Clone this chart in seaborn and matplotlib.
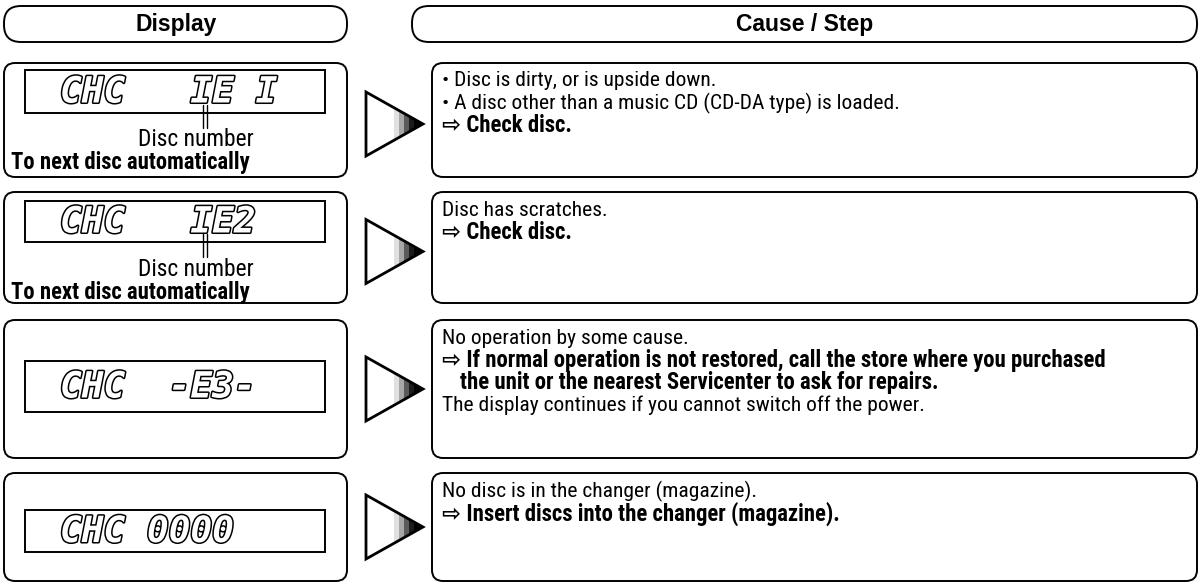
import matplotlib
matplotlib.use("Agg")
import matplotlib.pyplot as plt
import matplotlib.patheffects as pe
from matplotlib import font_manager
from matplotlib.patches import FancyBboxPatch, Polygon
import seaborn as sns

# --- text content ---
headers = ["Display", "Cause / Step"]
display_codes = ["CHC   IE I", "CHC   IE2", "CHC  -E3-", "CHC 0000"]
disc_note = "Disc number"
auto_note = "To next disc automatically"

# cause lines per row: (text, bold, indent)
cause_rows = [
    [("\u2022 Disc is dirty, or is upside down.", False, 0),
     ("\u2022 A disc other than a music CD (CD-DA type) is loaded.", False, 0),
     ("\u21e8 Check disc.", True, 0)],
    [("Disc has scratches.", False, 0),
     ("\u21e8 Check disc.", True, 0)],
    [("No operation by some cause.", False, 0),
     ("\u21e8 If normal operation is not restored, call the store where you purchased", True, 0),
     ("the unit or the nearest Servicenter to ask for repairs.", True, 1),
     ("The display continues if you cannot switch off the power.", False, 0)],
    [("No disc is in the changer (magazine).", False, 0),
     ("\u21e8 Insert discs into the changer (magazine).", True, 0)],
]

# row geometry (pixels)
row_top = [63, 192, 320, 473]
row_bot = [177, 303, 458, 581]
disp_top = [70, 201, 361, 510]
disp_bot = [113, 242, 412, 552]
has_note = [True, True, False, False]

sns.set_theme(style="white")
plt.rcParams["text.color"] = "black"

fig = plt.figure(figsize=(12.02, 5.83), dpi=100)
ax = fig.add_axes([0, 0, 1, 1])
ax.set_xlim(0, 1202)
ax.set_ylim(583, 0)
ax.axis("off")
renderer = fig.canvas.get_renderer()

# a narrow face is closest to the condensed type of the original
names = {f.name for f in font_manager.fontManager.ttflist}
narrow = next((n for n in ["Liberation Sans Narrow", "Roboto Condensed", "Open Sans Condensed",
                           "Noto Sans Condensed", "Roboto", "Liberation Sans"] if n in names),
              "DejaVu Sans")
FONT = [narrow, "DejaVu Sans"]
plt.rcParams["font.family"] = FONT


def width_of(s, size, weight="normal"):
    t = ax.text(0, 0, s, fontsize=size, fontweight=weight)
    w = t.get_window_extent(renderer).width
    t.remove()
    return w


SZ_REG = 14.5 * 247 / width_of("No operation by some cause.", 14.5)
SZ_BOLD = min(SZ_REG * 1.06, 14.5 * 645 / width_of(
    "If normal operation is not restored, call the store where you purchased", 14.5, "bold"))
SZ_NOTE = 14.5 * 116 / width_of(disc_note, 14.5)
SZ_AUTO = 14.5 * 240 / width_of(auto_note, 14.5, "bold")

LW = 1.4


def rbox(x0, y0, x1, y1, r):
    p = FancyBboxPatch((x0, y0), x1 - x0, y1 - y0,
                       boxstyle=f"round,pad=0,rounding_size={r}",
                       fc="white", ec="black", lw=LW)
    ax.add_patch(p)


# headers
rbox(4, 6, 347, 42, 17)
rbox(412, 6, 1197, 42, 17)
for x, h in zip([176, 805], headers):
    ax.text(x, 24, h, ha="center", va="center", fontsize=16.5,
            fontweight="bold", family=["Liberation Sans", "DejaVu Sans"])

lcd = [pe.withStroke(linewidth=2.2, foreground="black")]

for i in range(4):
    t, b = row_top[i], row_bot[i]
    rbox(4, t, 347, b, 11)
    rbox(432, t, 1197, b, 11)

    # LCD window
    ax.add_patch(plt.Rectangle((25, disp_top[i]), 300, disp_bot[i] - disp_top[i],
                               fc="white", ec="black", lw=LW))
    ax.text(60, (disp_top[i] + disp_bot[i]) / 2 + 1, display_codes[i],
            ha="left", va="center", fontsize=26, fontstyle="italic",
            fontweight="bold", color="white", path_effects=lcd,
            family=["DejaVu Sans Mono", "DejaVu Sans"])

    if has_note[i]:
        ax.plot([203, 203], [disp_bot[i] - 8, disp_bot[i] + 15], color="black", lw=1)
        ax.plot([207, 207], [disp_bot[i] - 8, disp_bot[i] + 15], color="black", lw=1)
        ax.text(196, disp_bot[i] + 27, disc_note, ha="center", va="center",
                fontsize=SZ_NOTE)
        ax.text(11, disp_bot[i] + 50, auto_note, ha="left", va="center",
                fontsize=SZ_AUTO, fontweight="bold")

    # arrow triangle with shaded tip
    cy = (t + b) / 2 + (4 if i < 2 else 0)
    tri = Polygon([(366, cy - 32), (366, cy + 32), (423, cy)], closed=True,
                  fc="white", ec="black", lw=2)
    ax.add_patch(tri)
    for k, a in enumerate([0.12, 0.25, 0.45, 0.7, 0.9]):
        x0 = 394 + k * 5
        h = 32 * (423 - x0) / 57
        ax.add_patch(Polygon([(x0, cy - h), (x0, cy + h), (423, cy)], closed=True,
                             fc="black", ec="none", alpha=a))

    # cause text
    y = t + 18
    for text, bold, indent in cause_rows[i]:
        ax.text(442 + indent * 18, y, text, ha="left", va="center",
                fontsize=SZ_BOLD if bold else SZ_REG,
                fontweight="bold" if bold else "normal")
        y += 22.5

fig.savefig("out.png", dpi=100, facecolor="white")
